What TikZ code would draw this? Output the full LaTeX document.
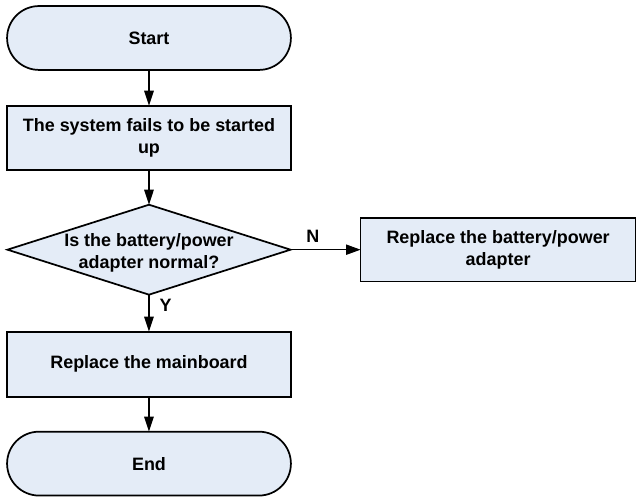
\documentclass[tikz,border=0pt]{standalone}
\usepackage{fontspec}
\setmainfont{Liberation Sans}
\usetikzlibrary{arrows.meta,positioning,shapes.geometric}
\usepackage{xcolor}
\definecolor{FlowFill}{RGB}{228,236,247}
\tikzset{
  terminator/.style={draw=black,line width=1.3pt,rounded corners=0.845cm,fill=FlowFill,
    minimum width=7.51cm,minimum height=1.69cm,align=center,outer sep=0pt},
  process/.style={draw=black,line width=1.3pt,rectangle,fill=FlowFill,
    minimum width=7.51cm,minimum height=1.69cm,align=center,outer sep=0pt},
  decision/.style={draw=black,line width=1.3pt,diamond,fill=FlowFill,
    minimum width=7.49cm,minimum height=2.38cm,inner sep=0pt,outer sep=0pt},
  flowarrow/.style={-{Triangle[length=0.4cm,width=0.25cm]},line width=1.3pt,draw=black},
  sidearrow/.style={-{Triangle[length=0.38cm,width=0.27cm]},line width=0.8pt,draw=black},
}

\begin{document}
\begin{tikzpicture}[font=\bfseries\fontsize{13.5}{16.5}\selectfont,node distance=0.95cm]
  \useasboundingbox (-3.942,1.005) rectangle (12.885,-12.144);
  \node[terminator] (start) {Start};
  \node[process,below=of start] (fails) {The system fails to be started\\up};
  \node[decision,below=0.926cm of fails,
    label={[align=center,yshift=-2.2pt]center:Is the battery/power\\adapter normal?}] (check) {};
  \node[process,minimum width=7.28cm,right=1.852cm of check] (battery) {Replace the battery/power\\adapter};
  \node[process,minimum height=1.72cm,below=0.979cm of check] (board) {Replace the mainboard};
  \node[terminator,below=0.926cm of board] (end) {End};
  \draw[flowarrow] (start) -- (fails);
  \draw[flowarrow] (fails) -- (check);
  \draw[sidearrow] (check) -- node[pos=0.32,above=2pt] {N} (battery);
  \draw[flowarrow] (check) -- node[pos=0.3,right=4pt] {Y} (board);
  \draw[flowarrow] (board) -- (end);
\end{tikzpicture}
\end{document}
